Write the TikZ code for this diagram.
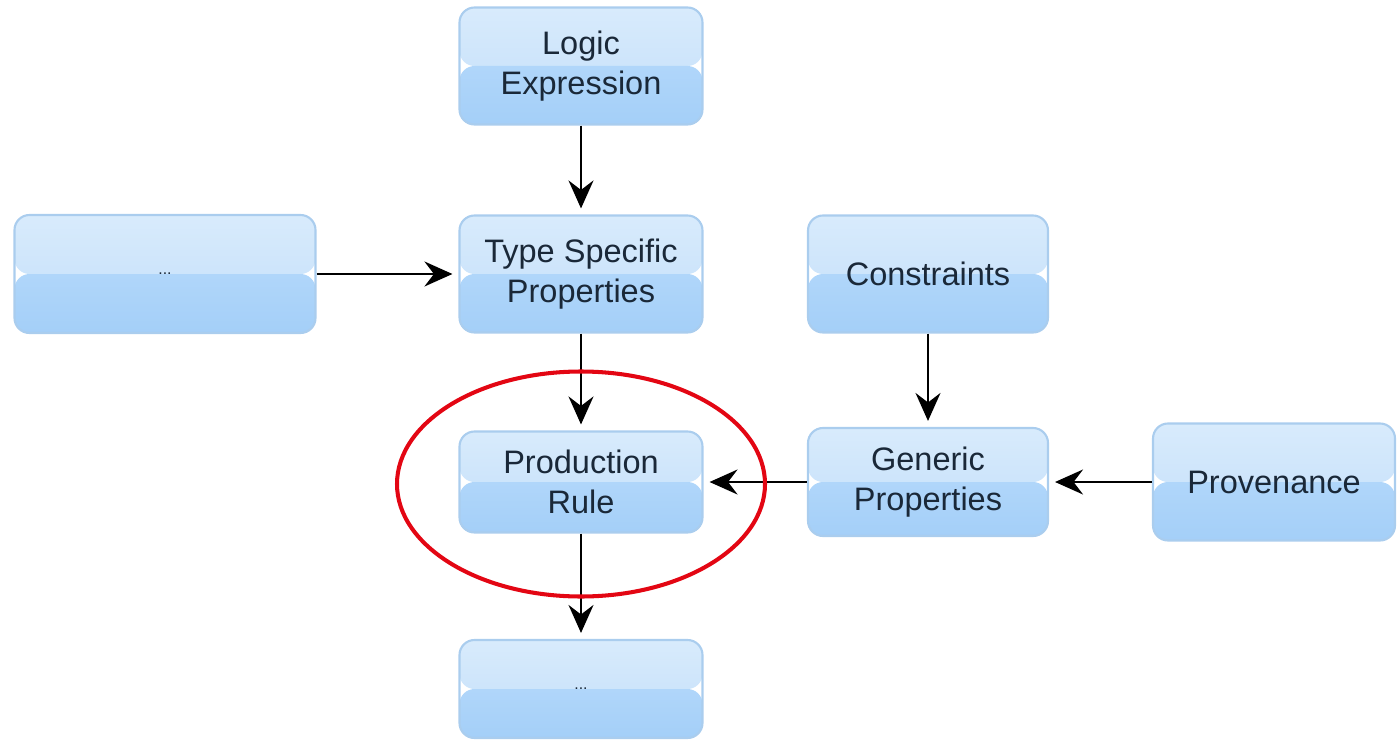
\documentclass[tikz,border=0pt]{standalone}
\usepackage{fontspec}
\setmainfont{Liberation Sans}
\usetikzlibrary{arrows.meta, positioning}
\definecolor{boxTopA}{HTML}{D8EBFC}
\definecolor{boxTopB}{HTML}{C2DEF9}
\definecolor{boxBotA}{HTML}{B0D6FA}
\definecolor{boxBotB}{HTML}{A4CFF8}
\definecolor{boxLine}{HTML}{AACDEE}
\definecolor{boxText}{HTML}{1A2838}
\definecolor{ringRed}{HTML}{E30613}
\tikzset{
    stepBox/.style={rectangle, rounded corners=0.3cm, draw=boxLine, line width=1.2pt,
        minimum width=4.86cm, minimum height=2.34cm, align=center, text=boxText,
        font=\fontsize{18.5}{22.7}\selectfont,
        path picture={
            \shade[top color=boxTopA, bottom color=boxTopB]
                (path picture bounding box.north west) rectangle (path picture bounding box.east);
            \shade[top color=boxBotA, bottom color=boxBotB]
                (path picture bounding box.west) rectangle (path picture bounding box.south east);
        }},
    dotsBox/.style={stepBox, font=\fontsize{9}{11}\selectfont},
    flowEdge/.style={-{Stealth[length=0.56cm, width=0.5cm, inset=0.19cm]}, line width=1.2pt, black, shorten >=0.12cm},
    focusRing/.style={draw=ringRed, line width=2.3pt},
}
\newcommand{\drawLink}[2]{
    \draw[flowEdge] (#1) -- (#2);
}

\begin{document}
\begin{tikzpicture}
    \useasboundingbox (0,0) rectangle (28,-14.84);

    \node[stepBox] (logic) at (11.62,-1.32) {Logic\\Expression};
    \node[dotsBox, minimum width=6.02cm, minimum height=2.36cm] (other) at (3.30,-5.48) {...};
    \node[stepBox] (typeprops) at (11.62,-5.48) {Type Specific\\Properties};
    \node[stepBox, minimum width=4.8cm] (constraints) at (18.56,-5.48) {Constraints};
    \node[stepBox, minimum height=2.02cm] (prodrule) at (11.62,-9.64) {Production\\Rule};
    \node[stepBox, minimum width=4.8cm, minimum height=2.16cm] (genprops) at (18.56,-9.64) {Generic\\Properties};
    \node[stepBox, minimum width=4.84cm] (provenance) at (25.48,-9.64) {Provenance};
    \node[dotsBox, minimum height=1.96cm] (next) at (11.62,-13.78) {...};

    \drawLink{logic.south}{typeprops.north}
    \drawLink{other.east}{typeprops.west}
    \drawLink{typeprops.south}{prodrule.north}
    \drawLink{constraints.south}{genprops.north}
    \drawLink{genprops.west}{prodrule.east}
    \drawLink{provenance.west}{genprops.east}
    \drawLink{prodrule.south}{next.north}

    % highlight
    \draw[focusRing] (11.62,-9.68) ellipse [x radius=3.68cm, y radius=2.25cm];
\end{tikzpicture}
\end{document}
